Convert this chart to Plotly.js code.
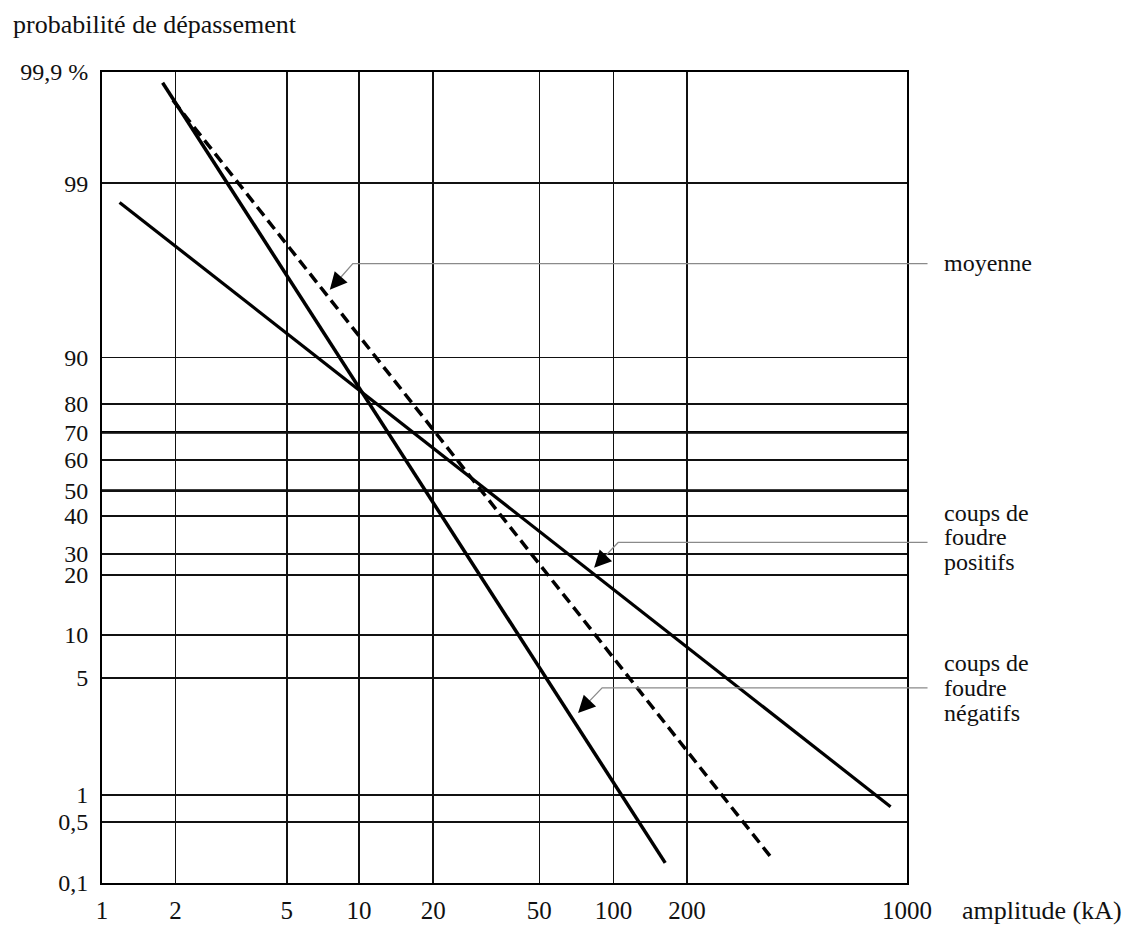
<!DOCTYPE html>
<html>
<head>
<meta charset="utf-8">
<script src="https://cdn.plot.ly/plotly-3.0.1.min.js"></script>
<style>html,body{margin:0;padding:0;background:#fff;}#chart{width:1129px;height:925px;}</style>
</head>
<body>
<div id="chart"></div>
<script>
// ---- data (amplitude in kA, exceedance probability in %) ----
var xTickValues = [1, 2, 5, 10, 20, 50, 100, 200, 1000];
var xTickLabels = ["1", "2", "5", "10", "20", "50", "100", "200", "1000"];
var yTickValues = [0.1, 0.5, 1, 5, 10, 20, 30, 40, 50, 60, 70, 80, 90, 99, 99.9];
var yTickLabels = ["0,1", "0,5", "1", "5", "10", "20", "30", "40", "50", "60", "70", "80", "90", "99", "99,9 %"];

var negAmp = [1.77, 163];
var negProb = [99.875, 0.17];
var posAmp = [1.18, 887];
var posProb = [98.7, 0.74];
var moyAmp = [1.95, 373];
var moyProb = [99.82, 0.19];

// ---- axis layout of the (hand-drawn) probability paper: fraction of axis length per grid line ----
var xGridFrac = [0, 0.0914, 0.2295, 0.3194, 0.4114, 0.5433, 0.6353, 0.7266, 1];
var yGridFrac = [0, 0.0753, 0.1086, 0.2529, 0.3060, 0.3800, 0.4059, 0.4528, 0.4837, 0.5219, 0.5556, 0.5910, 0.6478, 0.8630, 1];

function interp(v, vals, fr, tf) {
  var tv = tf(v);
  for (var i = 0; i < vals.length - 1; i++) {
    var a = tf(vals[i]), b = tf(vals[i + 1]);
    if (tv <= b || i === vals.length - 2) {
      var t = (tv - a) / (b - a);
      return fr[i] + t * (fr[i + 1] - fr[i]);
    }
  }
}
function xScale(v) { return interp(v, xTickValues, xGridFrac, function (u) { return Math.log10(u); }); }
function yScale(p) { return interp(p, yTickValues, yGridFrac, function (u) { return Math.log(u / (100 - u)); }); }

var font = "Liberation Serif";

var traces = [
  {x: negAmp.map(xScale), y: negProb.map(yScale), mode: "lines", line: {color: "#000", width: 3.5}, hoverinfo: "skip"},
  {x: posAmp.map(xScale), y: posProb.map(yScale), mode: "lines", line: {color: "#000", width: 3.2}, hoverinfo: "skip"},
  {x: moyAmp.map(xScale), y: moyProb.map(yScale), mode: "lines", line: {color: "#000", width: 3.5, dash: "11px,6px"}, hoverinfo: "skip"}
];

var shapes = [];
// thicker grid lines at 70 and 50
[70, 50].forEach(function (p) {
  shapes.push({type: "line", xref: "paper", yref: "y", x0: 0, x1: 1, y0: yScale(p), y1: yScale(p), line: {color: "#000", width: 2.8}, layer: "below"});
});
// leader lines (gray)
var leaders = [
  {tail: [0.3116, 0.7637], tip: [0.2830, 0.7316]},
  {tail: [0.6412, 0.4199], tip: [0.6113, 0.3887]},
  {tail: [0.6213, 0.2406], tip: [0.5914, 0.2097]}
];
leaders.forEach(function (l) {
  var mx = l.tail[0] + (l.tip[0] - l.tail[0]) * 0.55;
  var my = l.tail[1] + (l.tip[1] - l.tail[1]) * 0.55;
  shapes.push({type: "path", xref: "paper", yref: "paper",
    path: "M 1.0255 " + l.tail[1] + " L " + l.tail[0] + " " + l.tail[1] + " L " + mx + " " + my,
    line: {color: "#8a8a8a", width: 1.3}});
});

var annotations = [];
leaders.forEach(function (l) {
  annotations.push({xref: "paper", yref: "paper", x: l.tip[0], y: l.tip[1], text: "", showarrow: true,
    arrowhead: 2, arrowsize: 1.9, arrowwidth: 1.8, arrowcolor: "#000",
    ax: (l.tail[0] - l.tip[0]) * 804 * 0.5, ay: -(l.tail[1] - l.tip[1]) * 810.5 * 0.5});
});
var labelFont = {family: font, size: 24, color: "#111"};
var sideLabels = [
  {text: "moyenne", y: 0.7650},
  {text: "coups de", y: 0.4565}, {text: "foudre", y: 0.4269}, {text: "positifs", y: 0.3960},
  {text: "coups de", y: 0.2714}, {text: "foudre", y: 0.2406}, {text: "négatifs", y: 0.2097}
];
sideLabels.forEach(function (s) {
  annotations.push({xref: "paper", yref: "paper", x: 1.0445, y: s.y, xanchor: "left", yanchor: "middle",
    text: s.text, showarrow: false, font: labelFont, align: "left", borderpad: 0});
});
annotations.push({xref: "paper", yref: "paper", x: 1.066, y: -0.0333, xanchor: "left", yanchor: "middle", text: "amplitude (kA)", showarrow: false, font: {family: font, size: 26, color: "#111"}});
annotations.push({xref: "paper", yref: "paper", x: -0.1135, y: 1.0586, xanchor: "left", yanchor: "middle", text: "probabilité de dépassement", showarrow: false, font: {family: font, size: 26, color: "#111"}});

var layout = {
  width: 1129, height: 925,
  margin: {l: 102, r: 222, t: 72, b: 42},
  paper_bgcolor: "#fff", plot_bgcolor: "#fff",
  showlegend: false,
  font: {family: font, size: 24, color: "#111"},
  xaxis: {
    range: [0, 1], tickmode: "array", tickvals: xTickValues.map(xScale), ticktext: xTickLabels,
    showgrid: true, gridcolor: "#111", gridwidth: 1.7, zeroline: false,
    showline: true, linecolor: "#000", linewidth: 2, mirror: true,
    ticks: "", ticklabelstandoff: 4, tickfont: {family: font, size: 25, color: "#111"}, fixedrange: true
  },
  yaxis: {
    range: [0, 1], tickmode: "array", tickvals: yTickValues.map(yScale), ticktext: yTickLabels,
    showgrid: true, gridcolor: "#111", gridwidth: 1.7, zeroline: false,
    showline: true, linecolor: "#000", linewidth: 2, mirror: true,
    ticks: "", ticklabelstandoff: 7, tickfont: {family: font, size: 24, color: "#111"}, fixedrange: true
  },
  shapes: shapes,
  annotations: annotations
};

Plotly.newPlot("chart", traces, layout, {staticPlot: true, displayModeBar: false});
</script>
</body>
</html>
